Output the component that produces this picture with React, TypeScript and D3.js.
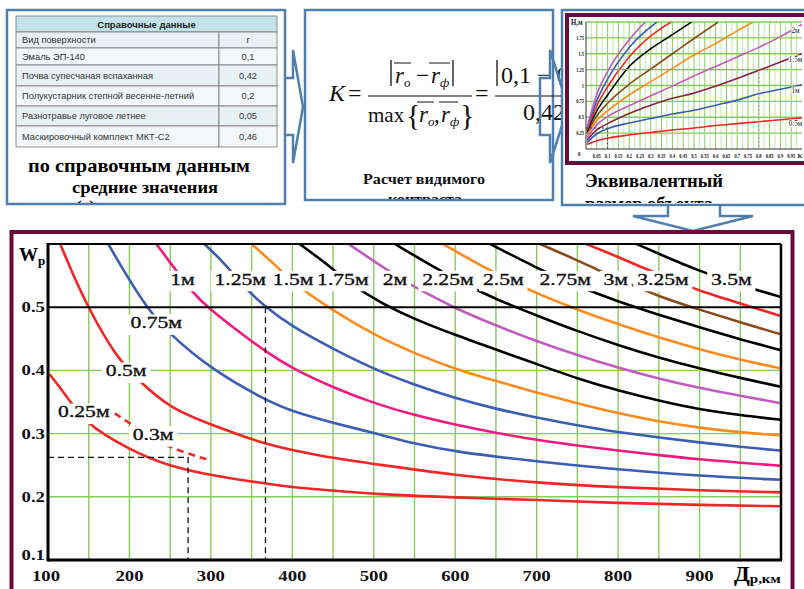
import React, { useEffect, useRef } from 'react';
import * as d3 from 'd3';

// --- справочные данные ---
const surfaceNames = ['Вид поверхности', 'Эмаль ЭП-140', 'Почва супесчаная вспаханная', 'Полукустарник степной весенне-летний', 'Разнотравье луговое летнее', 'Маскировочный комплект МКТ-С2'];
const surfaceR = ['r', '0,1', '0,42', '0,2', '0,05', '0,46'];

// --- эквивалентный размер H(K), [K, H] ---
const hm05 = [[0.005, 0.07], [0.05, 0.13], [0.1, 0.17], [0.2, 0.22], [0.3, 0.26], [0.4, 0.3], [0.5, 0.33], [0.6, 0.37], [0.7, 0.4], [0.8, 0.43], [0.9, 0.46], [1, 0.49]];
const hm10 = [[0.005, 0.1], [0.05, 0.24], [0.1, 0.32], [0.2, 0.41], [0.3, 0.48], [0.4, 0.55], [0.5, 0.61], [0.6, 0.69], [0.7, 0.77], [0.8, 0.87], [0.9, 0.94], [1, 1.01]];
const hm15 = [[0.005, 0.14], [0.05, 0.3], [0.1, 0.4], [0.2, 0.56], [0.3, 0.69], [0.4, 0.8], [0.5, 0.88], [0.6, 0.99], [0.7, 1.11], [0.8, 1.24], [0.9, 1.37], [1, 1.5]];
const hm20 = [[0.005, 0.18], [0.05, 0.38], [0.1, 0.51], [0.2, 0.68], [0.3, 0.84], [0.4, 0.99], [0.5, 1.15], [0.6, 1.3], [0.7, 1.45], [0.8, 1.6], [0.9, 1.77], [1, 1.96]];
const hmOrange = [[0.005, 0.22], [0.05, 0.45], [0.1, 0.6], [0.2, 0.85], [0.3, 1.06], [0.4, 1.27], [0.5, 1.48], [0.6, 1.66], [0.7, 1.86], [0.774, 2.0]];
const hmBrown = [[0.005, 0.25], [0.05, 0.52], [0.1, 0.72], [0.2, 1.02], [0.3, 1.26], [0.4, 1.5], [0.5, 1.74], [0.612, 2.0]];
const hmBlack = [[0.005, 0.28], [0.05, 0.6], [0.1, 0.85], [0.2, 1.3], [0.3, 1.58], [0.4, 1.8], [0.489, 2.0]];
const hmRed = [[0.005, 0.3], [0.05, 0.68], [0.1, 0.98], [0.2, 1.45], [0.3, 1.78], [0.394, 2.0]];
const hmBlue = [[0.005, 0.32], [0.05, 0.76], [0.1, 1.1], [0.2, 1.6], [0.328, 2.0]];
const hmPurple = [[0.005, 0.34], [0.05, 0.86], [0.1, 1.22], [0.2, 1.72], [0.274, 2.0]];
const miniKTicks = [0.05, 0.1, 0.15, 0.2, 0.25, 0.3, 0.35, 0.4, 0.45, 0.5, 0.55, 0.6, 0.65, 0.7, 0.75, 0.8, 0.85, 0.9, 0.95];
const miniHTicks = [0.25, 0.5, 0.75, 1, 1.25, 1.5, 1.75];

// --- вероятность распознавания W_p(Д_p), [Д км, W] ---
const w025 = [[102, 0.394], [125, 0.356], [143, 0.319], [200, 0.274], [250, 0.248], [300, 0.234], [367, 0.221], [400, 0.215], [450, 0.21], [500, 0.204], [600, 0.199], [700, 0.195], [800, 0.19], [900, 0.187], [1000, 0.185]];
const w03 = [[182, 0.332], [203, 0.314], [237, 0.285], [270, 0.269], [296, 0.259]];
const w05 = [[115, 0.6], [131, 0.551], [149, 0.5], [184, 0.42], [213, 0.382], [250, 0.34], [300, 0.314], [367, 0.283], [400, 0.274], [450, 0.261], [500, 0.252], [600, 0.234], [700, 0.222], [800, 0.215], [900, 0.21], [1000, 0.207]];
const w075 = [[174, 0.6], [196, 0.551], [221, 0.5], [247, 0.46], [300, 0.402], [367, 0.353], [400, 0.335], [450, 0.317], [500, 0.301], [550, 0.284], [600, 0.271], [700, 0.256], [800, 0.243], [900, 0.233], [1000, 0.227]];
const w10 = [[233, 0.6], [254, 0.564], [278, 0.522], [296, 0.5], [330, 0.465], [367, 0.43], [400, 0.403], [450, 0.373], [500, 0.348], [550, 0.329], [600, 0.314], [650, 0.301], [700, 0.29], [750, 0.281], [800, 0.273], [850, 0.266], [900, 0.259], [950, 0.254], [1000, 0.249]];
const w125 = [[292, 0.6], [319, 0.567], [338, 0.535], [367, 0.5], [400, 0.469], [450, 0.434], [500, 0.402], [550, 0.377], [600, 0.356], [650, 0.339], [700, 0.325], [750, 0.313], [800, 0.302], [850, 0.294], [900, 0.286], [950, 0.279], [1000, 0.273]];
const w15 = [[350, 0.6], [379, 0.567], [403, 0.536], [444, 0.5], [500, 0.456], [550, 0.427], [600, 0.402], [650, 0.383], [700, 0.365], [750, 0.348], [800, 0.332], [850, 0.319], [900, 0.309], [950, 0.302], [1000, 0.297]];
const w175 = [[409, 0.6], [444, 0.567], [471, 0.537], [508, 0.507], [550, 0.481], [600, 0.456], [650, 0.433], [700, 0.41], [750, 0.387], [800, 0.368], [850, 0.352], [900, 0.338], [950, 0.329], [1000, 0.322]];
const w20 = [[469, 0.6], [508, 0.566], [536, 0.543], [550, 0.532], [600, 0.498], [650, 0.471], [700, 0.446], [750, 0.424], [800, 0.404], [850, 0.387], [900, 0.372], [950, 0.36], [1000, 0.348]];
const w225 = [[526, 0.6], [573, 0.564], [612, 0.536], [651, 0.512], [700, 0.487], [750, 0.462], [800, 0.44], [850, 0.42], [900, 0.403], [950, 0.388], [1000, 0.374]];
const w25 = [[585, 0.6], [635, 0.563], [682, 0.533], [700, 0.522], [750, 0.496], [800, 0.473], [850, 0.452], [900, 0.433], [950, 0.417], [1000, 0.403]];
const w275 = [[643, 0.6], [700, 0.562], [750, 0.533], [800, 0.509], [850, 0.488], [900, 0.468], [950, 0.449], [1000, 0.432]];
const w30 = [[704, 0.6], [749, 0.575], [778, 0.557], [812, 0.538], [850, 0.517], [900, 0.496], [950, 0.476], [1000, 0.457]];
const w325 = [[761, 0.6], [799, 0.58], [820, 0.568], [883, 0.535], [900, 0.526], [950, 0.506], [1000, 0.486]];
const w35 = [[823, 0.6], [849, 0.585], [898, 0.558], [950, 0.535], [1000, 0.516]];
const distTicks = [100, 200, 300, 400, 500, 600, 700, 800, 900];
const probTicks = [0.1, 0.2, 0.3, 0.4, 0.5];

const RED = '#f22626', BLUE = '#3c5db5', PINK = '#f21a82', ORANGE = '#ff8a1e', BLACK = '#000', PURPLE = '#c25bbf', BROWN = '#8a4b1d', MAROON = '#8c1d4f';
const PANEL = '#4f7fae', FRAME = '#650c3a', GRID = '#86cc5c';
const SERIF = '"Liberation Serif", "DejaVu Serif", serif';
const SANS = '"Liberation Sans", Arial, sans-serif';

const mainSeries = [
  { label: '0.25м', color: RED, pts: w025, at: [144, 0.335] },
  { label: '0.3м', color: RED, pts: w03, at: [229, 0.299], dashed: true },
  { label: '0.5м', color: RED, pts: w05, at: [196, 0.4] },
  { label: '0.75м', color: BLUE, pts: w075, at: [233, 0.476] },
  { label: '1м', color: PINK, pts: w10, at: [265, 0.545] },
  { label: '1.25м', color: BLUE, pts: w125, at: [336, 0.545] },
  { label: '1.5м', color: ORANGE, pts: w15, at: [401, 0.545] },
  { label: '1.75м', color: BLACK, pts: w175, at: [462, 0.545] },
  { label: '2м', color: PURPLE, pts: w20, at: [526, 0.545] },
  { label: '2.25м', color: BLACK, pts: w225, at: [591, 0.545] },
  { label: '2.5м', color: ORANGE, pts: w25, at: [659, 0.545] },
  { label: '2.75м', color: BLACK, pts: w275, at: [735, 0.545] },
  { label: '3м', color: BROWN, pts: w30, at: [797, 0.545] },
  { label: '3.25м', color: RED, pts: w325, at: [855, 0.545] },
  { label: '3.5м', color: BLACK, pts: w35, at: [939, 0.545] },
];

const miniSeries = [
  { color: RED, pts: hm05, label: '0.5м' },
  { color: BLUE, pts: hm10, label: '1м' },
  { color: MAROON, pts: hm15, label: '1.5м' },
  { color: PURPLE, pts: hm20, label: '2м' },
  { color: ORANGE, pts: hmOrange },
  { color: BROWN, pts: hmBrown },
  { color: BLACK, pts: hmBlack },
  { color: RED, pts: hmRed },
  { color: BLUE, pts: hmBlue },
  { color: PURPLE, pts: hmPurple },
];

const App = () => {
  const svgRef = useRef(null);

  useEffect(() => {
    const svg = d3.select(svgRef.current);
    svg.selectAll('*').remove();

    // text stretched horizontally like the slide
    const stretched = (parent, x, y, str, size, sx, weight = 'normal', anchor = 'middle', family = SERIF) => {
      const g = parent.append('g').attr('transform', `translate(${x},${y}) scale(${sx},1)`);
      const t = g.append('text').attr('text-anchor', anchor).attr('font-family', family)
        .attr('font-size', size).attr('font-weight', weight).attr('fill', '#111').text(str);
      return { g, t };
    };

    const defs = svg.append('defs');
    [['clipP1', 7, 10, 278, 193], ['clipP2', 305, 10, 257, 189], ['clipP3', 562, 10, 244, 193]].forEach(([id, x, y, w, h]) => {
      defs.append('clipPath').attr('id', id).append('rect').attr('x', x).attr('y', y).attr('width', w).attr('height', h);
    });

    // ---------- panel 1: table ----------
    svg.append('rect').attr('x', 7).attr('y', 10).attr('width', 278).attr('height', 194)
      .attr('fill', '#fff').attr('stroke', PANEL).attr('stroke-width', 2.5);
    const rowY = [16, 32, 48, 65, 86, 106, 126, 147];
    svg.append('rect').attr('x', 16).attr('y', 16).attr('width', 261).attr('height', 16)
      .attr('fill', '#c3e2e9').attr('stroke', '#777').attr('stroke-width', 0.8);
    svg.append('text').attr('x', 146.5).attr('y', 27.5).attr('text-anchor', 'middle')
      .attr('font-family', SANS).attr('font-size', 9.5).attr('font-weight', 'bold').attr('fill', '#222').text('Справочные данные');
    surfaceNames.forEach((name, i) => {
      const y0 = rowY[i + 1], y1 = rowY[i + 2];
      const fill = i % 2 ? '#f3f7f9' : '#e8f0f3';
      svg.append('rect').attr('x', 16).attr('y', y0).attr('width', 203).attr('height', y1 - y0)
        .attr('fill', fill).attr('stroke', '#777').attr('stroke-width', 0.8);
      svg.append('rect').attr('x', 219).attr('y', y0).attr('width', 58).attr('height', y1 - y0)
        .attr('fill', fill).attr('stroke', '#777').attr('stroke-width', 0.8);
      svg.append('text').attr('x', 22).attr('y', (y0 + y1) / 2 + 3.4).attr('font-family', SANS)
        .attr('font-size', 9.3).attr('fill', '#333').text(name);
      svg.append('text').attr('x', 248).attr('y', (y0 + y1) / 2 + 3.4).attr('text-anchor', 'middle')
        .attr('font-family', SANS).attr('font-size', 9.3).attr('fill', '#333').text(surfaceR[i]);
    });
    const p1Text = svg.append('g').attr('clip-path', 'url(#clipP1)');
    p1Text.append('text').attr('x', 28).attr('y', 172).attr('font-family', SERIF).attr('font-size', 19)
      .attr('font-weight', 'bold').attr('textLength', 222).attr('lengthAdjust', 'spacingAndGlyphs').text('по справочным данным');
    p1Text.append('text').attr('x', 72).attr('y', 193).attr('font-family', SERIF).attr('font-size', 17)
      .attr('font-weight', 'bold').attr('textLength', 146).attr('lengthAdjust', 'spacingAndGlyphs').text('средние значения');
    p1Text.append('text').attr('x', 76).attr('y', 212).attr('font-family', SERIF).attr('font-size', 17)
      .attr('font-weight', 'bold').text('(r)');

    // ---------- panel 2: contrast formula ----------
    svg.append('rect').attr('x', 305).attr('y', 10).attr('width', 248).attr('height', 190)
      .attr('fill', '#fff').attr('stroke', PANEL).attr('stroke-width', 2.5);
    const f = svg.append('g').attr('clip-path', 'url(#clipP2)').attr('font-family', SERIF).attr('fill', '#111');
    const ftext = (x, y, s, size = 23, italic = false) => f.append('text').attr('x', x).attr('y', y)
      .attr('font-size', size).attr('font-style', italic ? 'italic' : 'normal').text(s);
    const fline = (x1, y1, x2, y2, w = 1.2) => f.append('line').attr('x1', x1).attr('y1', y1).attr('x2', x2).attr('y2', y2)
      .attr('stroke', '#111').attr('stroke-width', w);
    ftext(329, 101, 'K', 24, true);
    ftext(348, 101, '=', 24);
    fline(368, 96, 472, 96);
    fline(391, 60, 391, 86, 1.3); fline(453, 60, 453, 86, 1.3);
    ftext(395, 83, 'r', 23, true); ftext(404, 87, 'o', 13, true); fline(394, 63, 411, 63, 1);
    ftext(416, 83, '−', 23);
    ftext(431, 83, 'r', 23, true); ftext(440, 87, 'ф', 13, true); fline(429, 63, 450, 63, 1);
    ftext(368, 122, 'max', 21);
    ftext(406, 125, '{', 30);
    ftext(419, 122, 'r', 23, true); ftext(428, 126, 'o', 13, true); fline(417, 102, 434, 102, 1);
    ftext(434, 122, ',', 23);
    ftext(441, 122, 'r', 23, true); ftext(450, 126, 'ф', 13, true); fline(439, 102, 458, 102, 1);
    ftext(460, 125, '}', 30);
    ftext(475, 101, '=', 24);
    fline(497, 60, 497, 86, 1.3);
    ftext(501, 83, '0,1 − 0,', 24);
    fline(495, 96, 562, 96);
    ftext(523, 120, '0,42', 24);
    f.append('text').attr('x', 363).attr('y', 184).attr('font-size', 15).attr('font-weight', 'bold')
      .attr('textLength', 122).attr('lengthAdjust', 'spacingAndGlyphs').text('Расчет видимого');
    f.append('text').attr('x', 388).attr('y', 204).attr('font-size', 15).attr('font-weight', 'bold')
      .attr('textLength', 74).attr('lengthAdjust', 'spacingAndGlyphs').text('контраста');

    // ---------- arrows between panels ----------
    const arrow = (d) => svg.append('path').attr('d', d).attr('fill', 'none')
      .attr('stroke', PANEL).attr('stroke-width', 2.5).attr('stroke-linejoin', 'miter');
    arrow('M285,78 L293,78 L293,50 L303,107 L293,163 L293,135 L285,135');
    arrow('M540,78 L550,78 L550,50 L568,107 L550,163 L550,135 L540,135 Z');

    // ---------- panel 3: equivalent size chart ----------
    svg.append('rect').attr('x', 562).attr('y', 10).attr('width', 246).attr('height', 195)
      .attr('fill', '#fff').attr('stroke', PANEL).attr('stroke-width', 2.5);
    svg.append('rect').attr('x', 567).attr('y', 15).attr('width', 242).attr('height', 148)
      .attr('fill', '#fff').attr('stroke', FRAME).attr('stroke-width', 4);

    const mx = d3.scaleLinear().domain([0, 1]).range([586, 802]);
    const my = d3.scaleLinear().domain([0, 2]).range([149, 22]);
    defs.append('clipPath').attr('id', 'clipMini').append('rect')
      .attr('x', mx(0)).attr('y', my(2)).attr('width', mx(1) - mx(0)).attr('height', my(0) - my(2));
    const mini = svg.append('g');
    d3.range(0.025, 1, 0.05).forEach((k) => {
      mini.append('line').attr('x1', mx(k)).attr('x2', mx(k)).attr('y1', my(2)).attr('y2', my(0))
        .attr('stroke', '#cdeab9').attr('stroke-width', 1.2);
    });
    miniKTicks.forEach((k) => {
      mini.append('line').attr('x1', mx(k)).attr('x2', mx(k)).attr('y1', my(2)).attr('y2', my(0))
        .attr('stroke', GRID).attr('stroke-width', 1);
    });
    [...miniHTicks, 2].forEach((h) => {
      mini.append('line').attr('x1', mx(0)).attr('x2', mx(1)).attr('y1', my(h)).attr('y2', my(h))
        .attr('stroke', GRID).attr('stroke-width', 1.3);
    });
    mini.append('line').attr('x1', mx(0)).attr('x2', mx(0)).attr('y1', my(2)).attr('y2', my(0)).attr('stroke', '#333').attr('stroke-width', 1);
    mini.append('line').attr('x1', mx(0)).attr('x2', mx(1)).attr('y1', my(0)).attr('y2', my(0)).attr('stroke', '#333').attr('stroke-width', 1);
    const miniLine = d3.line().x((d) => mx(d[0])).y((d) => my(d[1])).curve(d3.curveMonotoneX);
    const miniCurves = mini.append('g').attr('clip-path', 'url(#clipMini)');
    miniSeries.forEach((s) => {
      miniCurves.append('path').attr('d', miniLine(s.pts)).attr('fill', 'none')
        .attr('stroke', s.color).attr('stroke-width', 1.6);
    });
    mini.append('path').attr('d', `M${mx(0)},${my(1.25)} H${mx(0.8)} V${my(0)}`).attr('fill', 'none')
      .attr('stroke', '#999').attr('stroke-width', 1).attr('stroke-dasharray', '2,2');
    mini.append('path').attr('d', `M${mx(0)},${my(0.33)} H${mx(0.1)} V${my(0)}`).attr('fill', 'none')
      .attr('stroke', '#222').attr('stroke-width', 0.8).attr('stroke-dasharray', '2,2');
    miniSeries.filter((s) => s.label).forEach((s) => {
      const last = s.pts[s.pts.length - 1];
      const { g, t } = stretched(mini, mx(0.97), my(last[1]) + 8, s.label, 8, 0.9, 'normal', 'middle');
      const bb = t.node().getBBox();
      g.insert('rect', 'text').attr('x', bb.x).attr('y', bb.y + 1).attr('width', bb.width).attr('height', bb.height - 2).attr('fill', '#fff');
    });
    miniHTicks.forEach((h) => {
      stretched(mini, mx(0) - 2, my(h) + 2, String(h), 5.5, 0.8, 'bold', 'end');
    });
    stretched(mini, 571, 25, 'H,м', 7.5, 0.9, 'bold', 'start');
    stretched(mini, 579, 156, '0', 6, 0.9, 'bold', 'middle');
    miniKTicks.forEach((k) => {
      stretched(mini, mx(k), 157.5, String(+k.toFixed(2)), 6, 0.75, 'bold', 'middle');
    });
    stretched(mini, mx(1) - 2, 157.5, 'K', 6.5, 1, 'bold', 'middle');

    const p3Text = svg.append('g').attr('clip-path', 'url(#clipP3)');
    p3Text.append('text').attr('x', 585).attr('y', 187).attr('font-family', SERIF).attr('font-size', 19)
      .attr('font-weight', 'bold').attr('textLength', 138).attr('lengthAdjust', 'spacingAndGlyphs').text('Эквивалентный');
    p3Text.append('text').attr('x', 585).attr('y', 210).attr('font-family', SERIF).attr('font-size', 19)
      .attr('font-weight', 'bold').attr('textLength', 128).attr('lengthAdjust', 'spacingAndGlyphs').text('размер объекта');

    // down arrow
    svg.append('path').attr('d', 'M668,206 L668,216 L633,216 L693,231 L753,216 L720,216 L720,206')
      .attr('fill', '#fff').attr('stroke', PANEL).attr('stroke-width', 2.5);

    // ---------- main chart W_p(Д_p) ----------
    svg.append('rect').attr('x', 11.5).attr('y', 232).attr('width', 781).attr('height', 380)
      .attr('fill', '#fff').attr('stroke', FRAME).attr('stroke-width', 4);

    const x = d3.scaleLinear().domain([100, 1000]).range([48, 781]);
    const y = d3.scaleLinear().domain([0.1, 0.6]).range([560, 244]);
    const chart = svg.append('g');

    d3.range(150, 1000, 50).forEach((d) => {
      chart.append('line').attr('x1', x(d)).attr('x2', x(d)).attr('y1', y(0.6)).attr('y2', y(0.1))
        .attr('stroke', GRID).attr('stroke-width', 1.4);
    });
    [0.2, 0.3, 0.4].forEach((w) => {
      chart.append('line').attr('x1', x(100)).attr('x2', x(1000)).attr('y1', y(w)).attr('y2', y(w))
        .attr('stroke', GRID).attr('stroke-width', 1.4);
    });

    defs.append('clipPath').attr('id', 'clipMain').append('rect')
      .attr('x', x(100)).attr('y', y(0.6)).attr('width', x(1000) - x(100)).attr('height', y(0.1) - y(0.6));
    const line = d3.line().x((d) => x(d[0])).y((d) => y(d[1])).curve(d3.curveBasis);
    const curves = chart.append('g').attr('clip-path', 'url(#clipMain)');
    mainSeries.forEach((s) => {
      curves.append('path').attr('d', line(s.pts)).attr('fill', 'none').attr('stroke', s.color)
        .attr('stroke-width', 2.6).attr('stroke-dasharray', s.dashed ? '7,5' : null);
    });

    // curve labels on white patches
    mainSeries.forEach((s) => {
      const { g, t } = stretched(chart, x(s.at[0]), y(s.at[1]) + 6, s.label, 17, 1.27);
      t.attr('stroke', '#111').attr('stroke-width', 0.35);
      const bb = t.node().getBBox();
      g.insert('rect', 'text').attr('x', bb.x - 3).attr('y', bb.y + 1).attr('width', bb.width + 6)
        .attr('height', bb.height + 2).attr('fill', '#fff');
    });

    // frame lines
    chart.append('line').attr('x1', x(100)).attr('x2', x(1000)).attr('y1', y(0.5)).attr('y2', y(0.5))
      .attr('stroke', '#000').attr('stroke-width', 2);
    chart.append('line').attr('x1', x(100)).attr('x2', x(1000)).attr('y1', y(0.6)).attr('y2', y(0.6))
      .attr('stroke', '#000').attr('stroke-width', 2);
    chart.append('line').attr('x1', x(1000)).attr('x2', x(1000)).attr('y1', y(0.6)).attr('y2', y(0.1))
      .attr('stroke', '#000').attr('stroke-width', 2.5);
    chart.append('line').attr('x1', x(100)).attr('x2', x(100)).attr('y1', y(0.6) - 1).attr('y2', y(0.1) + 1.5)
      .attr('stroke', '#000').attr('stroke-width', 3);
    chart.append('line').attr('x1', x(100)).attr('x2', x(1000) + 1).attr('y1', y(0.1)).attr('y2', y(0.1))
      .attr('stroke', '#000').attr('stroke-width', 3);

    // reading lines
    const dash = (d) => chart.append('path').attr('d', d).attr('fill', 'none').attr('stroke', '#111')
      .attr('stroke-width', 1.3).attr('stroke-dasharray', '6,4');
    dash(`M${x(367)},${y(0.5)} V${y(0.1)}`);
    dash(`M${x(100)},${y(0.2625)} H${x(272)} V${y(0.1)}`);

    // ticks
    probTicks.forEach((w) => {
      stretched(chart, 45, y(w) + 5 - (w === 0.1 ? 5 : 0), String(w), 15, 1.25, 'bold', 'end');
    });
    distTicks.forEach((d) => {
      stretched(chart, x(d) - (d === 100 ? 2 : 0), 581, String(d), 15, 1.25, 'bold', 'middle');
    });

    // axis titles
    const wt = chart.append('text').attr('x', 19).attr('y', 261).attr('font-family', SERIF).attr('font-weight', 'bold');
    wt.append('tspan').attr('font-size', 19).text('W');
    wt.append('tspan').attr('font-size', 13).attr('dy', 4).text('p');
    const dt = chart.append('g').attr('transform', 'translate(734,581) scale(1.15,1)')
      .append('text').attr('font-family', SERIF).attr('font-weight', 'bold');
    dt.append('tspan').attr('font-size', 20).text('Д');
    dt.append('tspan').attr('font-size', 13).attr('dy', 2).text('p,км');
  }, []);

  return <svg ref={svgRef} width={804} height={589} style={{ position: 'absolute', left: 0, top: 0, background: '#fff' }} />;
};

export default App;
